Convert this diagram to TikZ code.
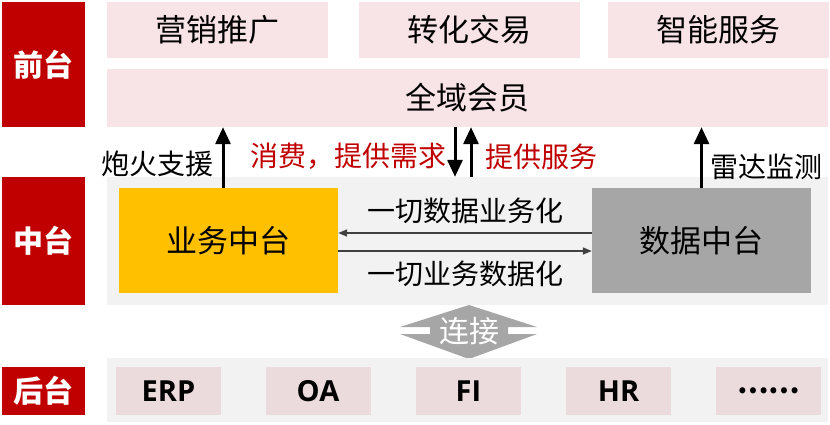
\documentclass[tikz,border=0pt]{standalone}
\usepackage{fontspec}
\setmainfont{Noto Sans CJK SC}
\newfontfamily\latinfont{Open Sans}
\usetikzlibrary{arrows.meta,positioning,calc}
\definecolor{hongse}{RGB}{192,0,0}
\definecolor{fenhong}{RGB}{248,228,230}
\definecolor{huifen}{RGB}{236,219,220}
\definecolor{qianhui}{RGB}{242,242,242}
\definecolor{huangse}{RGB}{255,192,0}
\definecolor{shenhui}{RGB}{166,166,166}

\begin{document}
\begin{tikzpicture}[x=1pt,y=-1pt,
  every node/.style={font=\fontsize{28}{30}\selectfont, inner sep=0pt},
  tai/.style={fill=hongse, text=white, minimum width=83pt,
    font=\fontsize{30}{32}\selectfont\bfseries},
  qiantai/.style={fill=fenhong, minimum height=56pt,
    font=\fontsize{31}{33}\selectfont},
  houtai/.style={fill=huifen, minimum width=105pt, minimum height=48pt,
    font=\fontsize{29}{31}\selectfont\latinfont\bfseries},
  zhong/.style={minimum width=219pt, minimum height=105pt,
    font=\fontsize{31}{33}\selectfont},
  jiantou/.style={line width=3pt, -{Triangle[length=17pt,width=15pt]}},
  xian/.style={line width=1.5pt, black!75, -{Triangle[length=9pt,width=7pt]}},
  hongzi/.style={text=hongse}]
\useasboundingbox (0,0) rectangle (830,424);
% 前台 / 中台 / 后台
\node[tai, minimum height=125pt] (qian) at (43.5,64.5) {前台};
\node[tai, minimum height=128pt] (zhongt) at (43.5,241) {中台};
\node[tai, minimum height=48pt] (hou) at (43.5,391) {后台};
% front row
\foreach \x/\t/\n in {217.5/营销推广/yx, 469/转化交易/zh, 718.5/智能服务/zn}
  \node[qiantai, minimum width=221pt] (\n) at (\x,30) {\t};
\node[qiantai, minimum width=721pt, minimum height=58pt] (qy) at (467.5,98) {全域会员};
% middle band
\node[fill=qianhui, minimum width=721pt, minimum height=128pt] (zt) at (467.5,241) {};
\node[zhong, fill=huangse] (yw) at (228.5,240.5) {业务中台};
\node[zhong, fill=shenhui] (sj) at (701.5,240.5) {数据中台};
\draw[xian] ([yshift=7.5pt]sj.west) -- ([yshift=7.5pt]yw.east);
\draw[xian] ([yshift=-10.5pt]yw.east) -- ([yshift=-10.5pt]sj.west);
\node (sy) at (465,211) {一切数据业务化};
\node (ys) at (465,274) {一切业务数据化};
% up and down
\draw[jiantou] ([xshift=-5.5pt]yw.north) -- ([xshift=-5.5pt]yw.north |- qy.south);
\node (ph) at (157.5,164) {炮火支援};
\draw[jiantou] (sj.north) -- (sj.north |- qy.south);
\node (ld) at (766,167) {雷达监测};
\draw[jiantou] ([xshift=-12.5pt]qy.south) -- ([xshift=-12.5pt]qy.south |- zt.north);
\draw[jiantou] ([xshift=3.5pt]qy.south |- zt.north) -- ([xshift=3.5pt]qy.south);
\node[hongzi] (xq) at (348,156) {消费，提供需求};
\node[hongzi] (fw) at (541.5,157) {提供服务};
% 连接
\fill[shenhui] (469,305) -- (537,327) -- (508,327) -- (508,334) -- (537,334)
  -- (469,359) -- (400,334) -- (430,334) -- (430,327) -- (400,327) -- cycle;
\node[text=white, font=\fontsize{30}{32}\selectfont] (lj) at (469,331) {连接};
% back row
\node[fill=qianhui, minimum width=721pt, minimum height=64pt] (ht) at (467.5,390) {};
\foreach \x/\t/\n in {168.5/ERP/erp, 318/OA/oa, 468.5/FI/fi, 618.5/HR/hr}
  \node[houtai] (\n) at (\x,391) {\t};
\node[houtai, font=\fontsize{28}{30}\selectfont\bfseries] (more) at (768.5,391) {……};
\end{tikzpicture}
\end{document}
